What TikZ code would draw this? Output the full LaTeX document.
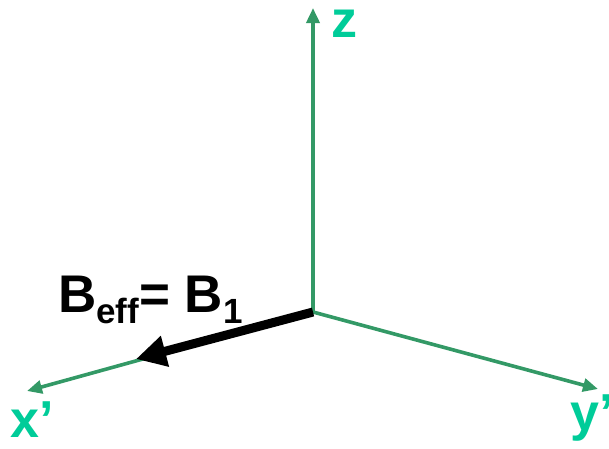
\documentclass[tikz,border=0pt]{standalone}
\usepackage{fontspec}
\setmainfont{Liberation Sans}
\usetikzlibrary{arrows.meta}
\definecolor{axisgreen}{RGB}{51,153,102}
\definecolor{labgreen}{RGB}{0,204,153}
\newcommand{\subtxt}[1]{\raisebox{-11pt}{\fontsize{35}{35}\selectfont #1}}
\begin{document}
\begin{tikzpicture}[x=1pt,y=-1pt,
  axisline/.style={draw=axisgreen,line width=3.6pt,-{Triangle[length=15pt,width=13pt]}},
  bline/.style={draw=black,line width=9pt,-{Triangle[length=30pt,width=30pt]}},
  lbl/.style={text=labgreen,font=\fontsize{52}{52}\selectfont\bfseries,inner sep=0pt,anchor=base west},
  blbl/.style={text=black,font=\fontsize{53}{53}\selectfont\bfseries,inner sep=0pt,anchor=base west}]
\useasboundingbox (0,0) rectangle (609,448);
\clip (0,0) rectangle (609,448);
\coordinate (O) at (313,312);
\coordinate (zt) at (313,8);
\coordinate (xt) at (27,391);
\coordinate (yt) at (598,389);
\coordinate (bt) at (136,359);
\draw[axisline] (O) -- (xt);
\draw[axisline] (O) -- (yt);
\draw[axisline] (O) -- (zt);
\draw[bline] (O) -- (bt);
\node[lbl] (zl) at (331,37) {z};
\node[lbl] (xl) at (10,437) {x’};
\node[lbl] (yl) at (570,430) {y’};
\node[blbl] (bl) at (58,312) {B\subtxt{eff}= B\subtxt{1}};
\end{tikzpicture}
\end{document}
